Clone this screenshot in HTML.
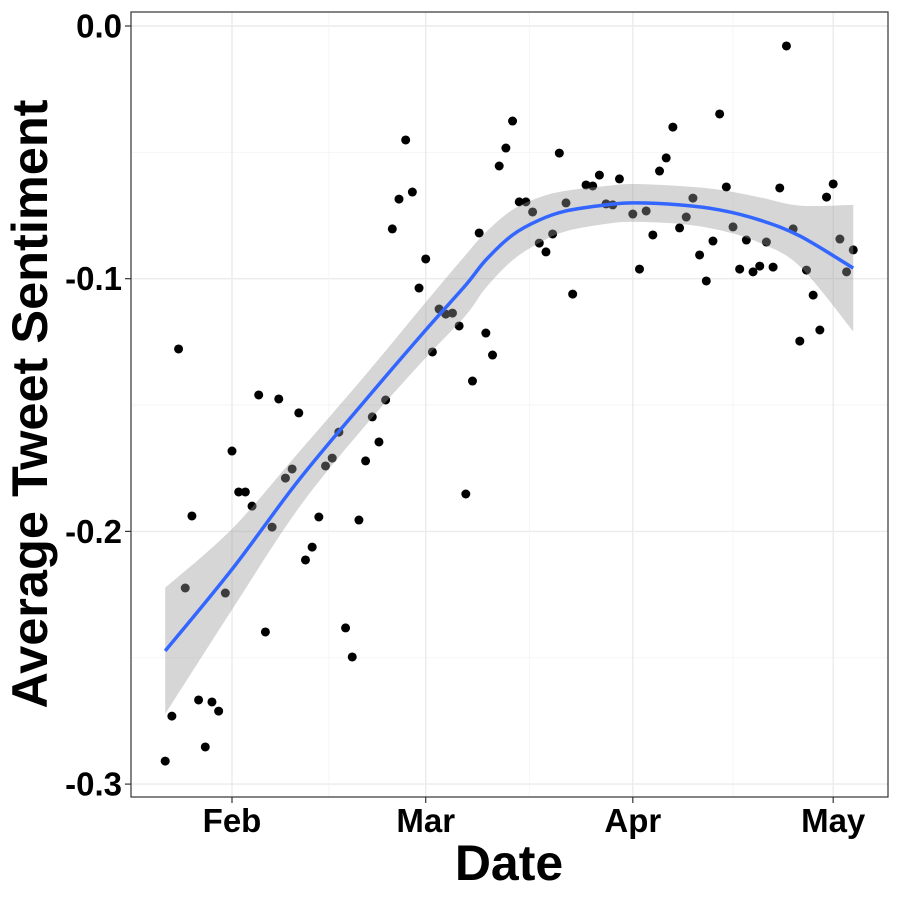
<!DOCTYPE html>
<html><head><meta charset="utf-8"><style>
html,body{margin:0;padding:0;background:#fff;}
svg text{font-family:"Liberation Sans",Arial,sans-serif;font-weight:bold;}
</style></head><body>
<svg id="chart" width="900" height="900" xmlns="http://www.w3.org/2000/svg"></svg>
<script>
// Day offsets from Feb 1 (2020)
const days = [-10,-9,-8,-7,-6,-5,-4,-3,-2,-1,0,1,2,3,4,5,6,7,8,9,10,11,12,13,14,15,16,17,18,19,20,21,22,23,24,25,26,27,28,29,30,31,32,33,34,35,36,37,38,39,40,41,42,43,44,45,46,47,48,49,50,51,53,54,55,56,57,58,60,61,62,63,64,65,66,67,68,69,70,71,72,73,74,75,76,77,78,79,80,81,82,83,84,85,86,87,88,89,90,91,92,93];
const sentiment = [-0.2909,-0.2731,-0.1278,-0.2224,-0.1939,-0.2667,-0.2853,-0.2675,-0.2711,-0.2244,-0.1682,-0.1844,-0.1844,-0.1900,-0.1460,-0.2398,-0.1983,-0.1476,-0.1789,-0.1753,-0.1531,-0.2113,-0.2062,-0.1943,-0.1741,-0.1710,-0.1607,-0.2382,-0.2497,-0.1955,-0.1721,-0.1547,-0.1646,-0.1480,-0.0803,-0.0685,-0.0451,-0.0657,-0.1037,-0.0922,-0.1290,-0.1120,-0.1140,-0.1136,-0.1187,-0.1852,-0.1405,-0.0819,-0.1215,-0.1302,-0.0554,-0.0483,-0.0376,-0.0696,-0.0696,-0.0736,-0.0859,-0.0894,-0.0823,-0.0503,-0.0700,-0.1061,-0.0629,-0.0633,-0.0590,-0.0704,-0.0708,-0.0605,-0.0744,-0.0962,-0.0732,-0.0827,-0.0574,-0.0522,-0.0400,-0.0799,-0.0756,-0.0681,-0.0906,-0.1009,-0.0851,-0.0348,-0.0637,-0.0795,-0.0962,-0.0847,-0.0973,-0.0950,-0.0855,-0.0954,-0.0641,-0.0079,-0.0803,-0.1247,-0.0966,-0.1065,-0.1203,-0.0677,-0.0625,-0.0843,-0.0973,-0.0886];
const smoothDays = [-10,0,10,20,29,35,38,42,46,50,56,60,67,73,79,85,93];
const smoothVals = [-0.2473,-0.2150,-0.1797,-0.1480,-0.1203,-0.1025,-0.0926,-0.0827,-0.0768,-0.0732,-0.0708,-0.0700,-0.0708,-0.0728,-0.0768,-0.0831,-0.0958];
const smoothSe = [0.0250,0.0160,0.0110,0.0100,0.0110,0.0120,0.0110,0.0100,0.0090,0.0080,0.0075,0.0075,0.0075,0.0080,0.0090,0.0120,0.0250];
const yTicks = [0,-0.1,-0.2,-0.3];
const yTickLabels = ["0.0","-0.1","-0.2","-0.3"];
const xTicks = [0,29,60,90];
const xTickLabels = ["Feb","Mar","Apr","May"];

const svg = document.getElementById('chart');
const NS = 'http://www.w3.org/2000/svg';
const L=131,R=888,T=12,B=797;
const xs = d => 232 + d*6.68;
const ys = v => 26 - v*2527;
function mk(tag, attrs, parent){const e=document.createElementNS(NS,tag);for(const k in attrs)e.setAttribute(k,attrs[k]);(parent||svg).appendChild(e);return e;}
function curve(P, start){
  let s=(start?'M':'L')+P[0][0]+','+P[0][1];
  for(let i=0;i<P.length-1;i++){
    const p0=P[i-1]||P[i],p1=P[i],p2=P[i+1],p3=P[i+2]||P[i+1];
    const c1=[p1[0]+(p2[0]-p0[0])/6,p1[1]+(p2[1]-p0[1])/6];
    const c2=[p2[0]-(p3[0]-p1[0])/6,p2[1]-(p3[1]-p1[1])/6];
    s+='C'+c1.join(',')+' '+c2.join(',')+' '+p2.join(',');
  }
  return s;
}

const panel = mk('rect',{x:L,y:T,width:R-L,height:B-T,fill:'#fff'});


const grid = mk('g',{});


for(let i=0;i<yTicks.length;i++){
  mk('line',{x1:L,x2:R,y1:ys(yTicks[i]),y2:ys(yTicks[i]),stroke:'#ebebeb','stroke-width':1.4},grid);
  if(i<yTicks.length-1){const m=(yTicks[i]+yTicks[i+1])/2;mk('line',{x1:L,x2:R,y1:ys(m),y2:ys(m),stroke:'#f3f3f3','stroke-width':0.8},grid);}
}
for(let i=0;i<xTicks.length;i++){
  mk('line',{y1:T,y2:B,x1:xs(xTicks[i]),x2:xs(xTicks[i]),stroke:'#ebebeb','stroke-width':1.4},grid);
  if(i<xTicks.length-1){const m=(xTicks[i]+xTicks[i+1])/2;mk('line',{y1:T,y2:B,x1:xs(m),x2:xs(m),stroke:'#f3f3f3','stroke-width':0.8},grid);}
}
const pts=mk('g',{});


for(let i=0;i<days.length;i++){
  const c=mk('circle',{cx:xs(days[i]),cy:ys(sentiment[i]),r:4.5,fill:'#000'},pts);
  
  
}
const up=smoothDays.map((d,i)=>[xs(d),ys(smoothVals[i]+smoothSe[i])]);
const lo=smoothDays.map((d,i)=>[xs(d),ys(smoothVals[i]-smoothSe[i])]).reverse();
const band=mk('path',{d:curve(up,true)+curve(lo,false)+'Z',fill:'#999',opacity:0.4});


const mid=smoothDays.map((d,i)=>[xs(d),ys(smoothVals[i])]);
const line=mk('path',{d:curve(mid,true),fill:'none',stroke:'#3366FF','stroke-width':3.5,'stroke-linejoin':'round'});


const border=mk('rect',{x:L,y:T,width:R-L,height:B-T,fill:'none',stroke:'#333','stroke-width':1.2});


for(let i=0;i<yTicks.length;i++){
  const y=ys(yTicks[i]);
  mk('line',{x1:L-6,x2:L,y1:y,y2:y,stroke:'#333','stroke-width':1.2});
  const t=mk('text',{x:L-9,y:y+11.5,'text-anchor':'end','font-size':33,fill:'#000'});
  t.textContent=yTickLabels[i];
  
  
}
for(let i=0;i<xTicks.length;i++){
  const x=xs(xTicks[i]);
  mk('line',{x1:x,x2:x,y1:B,y2:B+6,stroke:'#333','stroke-width':1.2});
  const t=mk('text',{x:x,y:832,'text-anchor':'middle','font-size':33,fill:'#000'});
  t.textContent=xTickLabels[i];
  
  
}
const xt=mk('text',{x:509,y:880,'text-anchor':'middle','font-size':50,fill:'#000'});
xt.textContent='Date';


const yt=mk('text',{x:0,y:0,'text-anchor':'middle','font-size':50.5,fill:'#000',transform:'translate(47,404) rotate(-90)'});
yt.textContent='Average Tweet Sentiment';


</script>
</body></html>
